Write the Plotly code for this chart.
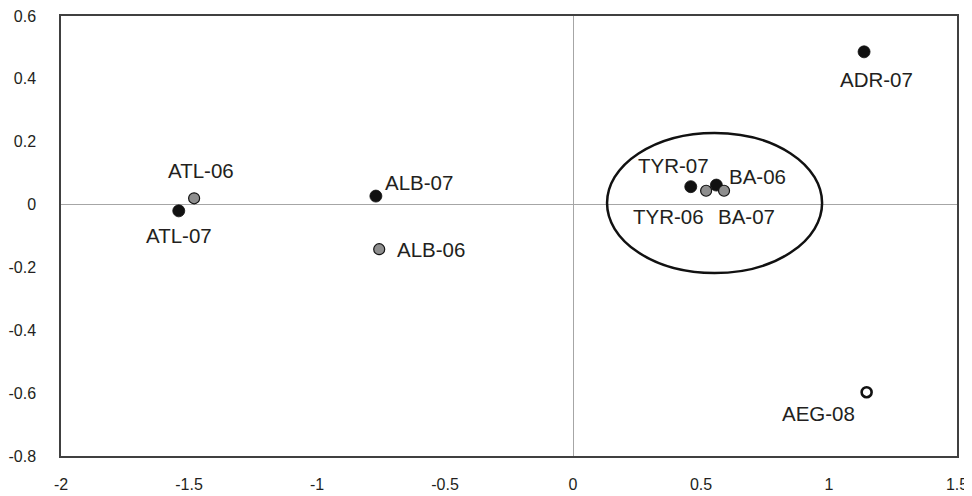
import plotly.graph_objects as go

# ---- data ----
names = ["ATL-07", "ATL-06", "ALB-07", "ALB-06", "TYR-07", "TYR-06", "BA-06", "BA-07", "ADR-07", "AEG-08"]
xs = [-1.54, -1.48, -0.77, -0.757, 0.46, 0.52, 0.56, 0.59, 1.137, 1.147]
ys = [-0.02, 0.02, 0.027, -0.142, 0.057, 0.044, 0.062, 0.044, 0.486, -0.597]
kinds = ["black", "gray", "black", "gray", "black", "gray", "black", "gray", "black", "open"]

x_tickvals = [-2, -1.5, -1, -0.5, 0, 0.5, 1, 1.5]
x_ticktext = ["-2", "-1.5", "-1", "-0.5", "0", "0.5", "1", "1.5"]
y_tickvals = [0.6, 0.4, 0.2, 0, -0.2, -0.4, -0.6, -0.8]
y_ticktext = ["0.6", "0.4", "0.2", "0", "-0.2", "-0.4", "-0.6", "-0.8"]

# label offsets in pixels (style)
label_offsets = {
    "ATL-06": (7, 28), "ATL-07": (0, -25), "ALB-07": (43, 14), "ALB-06": (52, 0),
    "TYR-07": (-17, 21), "TYR-06": (-38, -26), "BA-06": (41, 9), "BA-07": (22, -26),
    "ADR-07": (12, -28), "AEG-08": (-48, -21),
}

fill = {"black": "#111111", "gray": "#8e8e8e", "open": "white"}
size = {"black": 12, "gray": 11, "open": 10}
lw = {"black": 0.8, "gray": 1.2, "open": 2.6}

FONT = "Liberation Sans, Arial, sans-serif"
TXT = "#231f20"

fig = go.Figure()
fig.add_trace(go.Scatter(
    x=xs, y=ys, mode="markers",
    marker=dict(
        color=[fill[k] for k in kinds],
        size=[size[k] for k in kinds],
        opacity=1,
        line=dict(color="#111111", width=[lw[k] for k in kinds]),
    ),
    hoverinfo="text", text=names, showlegend=False,
))

for n, x, y in zip(names, xs, ys):
    dx, dy = label_offsets[n]
    fig.add_annotation(x=x, y=y, text=n, showarrow=False, xshift=dx, yshift=dy,
                       font=dict(family=FONT, size=20.5, color=TXT))

fig.add_shape(type="circle", xref="x", yref="y", x0=0.133, x1=0.973, y0=-0.218, y1=0.228,
              line=dict(color="#111111", width=2.5), layer="above")

# page body has an 8px margin; the figure box is sized/offset to compensate
fig.update_layout(
    width=964, height=488, autosize=False,
    margin=dict(l=53, r=15, t=8, b=40, autoexpand=False),
    paper_bgcolor="white", plot_bgcolor="white",
    font=dict(family=FONT, size=16, color=TXT),
)
fig.update_xaxes(range=[-2, 1.5], tickvals=x_tickvals, ticktext=x_ticktext, automargin=False,
                 showgrid=False, zeroline=True, zerolinecolor="#a6a6a6", zerolinewidth=1,
                 showline=True, mirror=True, linecolor="#404040", linewidth=1.5,
                 ticks="", ticklabelstandoff=13, ticklabeloverflow="allow",
                 tickfont=dict(size=16, color=TXT))
fig.update_yaxes(range=[-0.8, 0.6], tickvals=y_tickvals, ticktext=y_ticktext, automargin=False,
                 showgrid=False, zeroline=True, zerolinecolor="#a6a6a6", zerolinewidth=1,
                 showline=True, mirror=True, linecolor="#404040", linewidth=1.5,
                 ticks="", ticklabelstandoff=20, ticklabeloverflow="allow",
                 tickfont=dict(size=16, color=TXT))

fig.write_html("out.html", config={"responsive": False})
